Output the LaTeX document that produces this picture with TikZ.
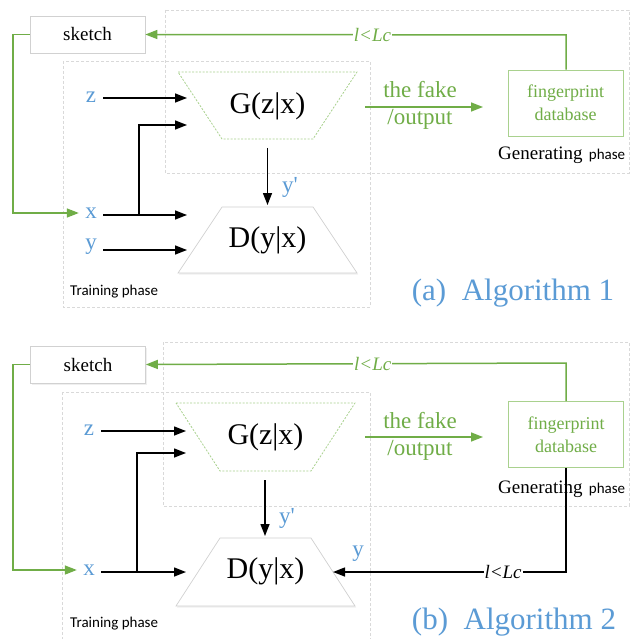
\documentclass[tikz,border=0pt]{standalone}
\usepackage{fontspec}
\setmainfont{Liberation Serif}
\newfontfamily\carlito{Carlito}
\usetikzlibrary{arrows.meta,shadows}
\definecolor{mygreen}{HTML}{70AD47}
\definecolor{mylgreen}{HTML}{A9D18E}
\definecolor{myblue}{HTML}{5B9BD5}
\tikzset{
  phasebox/.style={draw=black!15, dash pattern=on 3pt off 2pt, line width=0.7pt},
  softshadow/.style={drop shadow={opacity=0.12, shadow xshift=1pt, shadow yshift=-1.5pt}},
  whitebox/.style={draw=black!18, fill=white, line width=0.7pt},
  gtrap/.style={draw=mylgreen, fill=white, dash pattern=on 2pt off 1.5pt, line width=0.8pt},
  dtrap/.style={draw=black!18, fill=white, line width=0.7pt, softshadow},
  fpbox/.style={draw=mylgreen, fill=white, line width=0.9pt, text=mygreen, align=center,
    font=\fontsize{18}{23}\selectfont, minimum width=115pt, minimum height=66pt},
  sketchbox/.style={whitebox, softshadow, font=\fontsize{19}{19}\selectfont, minimum width=115pt, minimum height=37pt},
  blabel/.style={text=myblue, font=\fontsize{23}{23}\selectfont, inner sep=0pt, minimum width=24pt, minimum height=20pt},
  nettext/.style={font=\fontsize{30}{30}\selectfont, inner sep=0pt},
  faketext/.style={text=mygreen, font=\fontsize{23}{23}\selectfont, inner sep=0pt},
  condlabel/.style={font=\fontsize{19}{19}\selectfont\itshape, fill=white, inner sep=1pt},
  trainlabel/.style={font=\carlito\fontsize{15}{15}\selectfont, anchor=west, inner sep=0pt},
  genlabel/.style={font=\fontsize{19}{19}\selectfont, anchor=west, inner sep=0pt},
  titlelabel/.style={text=myblue, font=\fontsize{31}{31}\selectfont, inner sep=0pt},
  gline/.style={draw=mygreen, line width=1.5pt},
  garrow/.style={gline, -{Triangle[length=12pt,width=9pt]}},
  barrow/.style={draw=black, line width=1.4pt, -{Triangle[length=12pt,width=9pt]}},
  bline/.style={draw=black, line width=1.4pt},
}
\begin{document}
\begin{tikzpicture}[x=1pt,y=-1pt]
\useasboundingbox (0,0) rectangle (631,639);
\fill[white] (0,0) rectangle (631,639);

%%%%%%%%%%%%%%%% Panel (a)
\draw[phasebox] (165,10) rectangle (629,173);
\draw[phasebox] (63,61) rectangle (370,307);
\node[sketchbox] (a-sketch) at (87.5,34.5) {sketch};
\draw[gtrap] (178,72) -- (357,72) -- (313,139) -- (222,139) -- cycle;
\draw[dtrap] (222,207) -- (313,207) -- (357,273) -- (178,273) -- cycle;
\node[nettext] (a-G) at (267.5,106) {G(z|x)};
\node[nettext] (a-D) at (267.5,240) {D(y|x)};
\coordinate (a-Gout) at (267.5,148);
\coordinate (a-Din) at (267.5,205);
\coordinate (a-Gz) at (187,98);
\coordinate (a-Gx) at (187,125);
\coordinate (a-Dx) at (187,215);
\coordinate (a-Dy) at (187,250);
\coordinate (a-J) at (139,215);
\node[blabel] (a-z) at (91,97) {z};
\node[blabel] (a-x) at (91,213) {x};
\node[blabel] (a-y) at (91,247) {y};
\node[blabel] (a-yp) at (290,187) {y\textquotesingle};
\draw[barrow] (a-z.east |- a-Gz) -- (a-Gz);
\draw[barrow] (a-x.east |- a-Dx) -- (a-Dx);
\draw[barrow] (a-y.east |- a-Dy) -- (a-Dy);
\draw[barrow] (a-J) |- (a-Gx);
\draw[barrow] (a-Gout) -- (a-Din);
\node[fpbox] (a-fp) at (565.5,103) {fingerprint\\database};
\coordinate (a-fk1) at (365,107);
\coordinate (a-fk2) at (483,107);
\draw[garrow] (a-fk1) -- (a-fk2);
\node[faketext] (a-fake) at (420,90) {the fake};
\node[faketext] (a-out) at (420,119) {/output};
\coordinate (a-top) at (566,35);
\draw[garrow] (a-fp.north -| a-top) -- (a-top) -- (a-sketch.east)
  node[condlabel, text=mygreen, pos=0.46] (a-cond) {l<Lc};
\draw[garrow] (a-sketch.west) -- (13,34.5) |- (a-x.west);
\node[trainlabel] (a-train) at (70,292) {Training phase};
\node[genlabel] (a-gen) at (498,155) {Generating\,\,{\carlito\fontsize{15}{15}\selectfont phase}};
\node[titlelabel] (a-title) at (513,293) {(a)\ \ Algorithm 1};

%%%%%%%%%%%%%%%% Panel (b)
\draw[phasebox] (163,342) rectangle (629,506);
\draw[phasebox] (62,392) rectangle (370,660);
\node[sketchbox] (b-sketch) at (88,364.5) {sketch};
\draw[gtrap] (176,403) -- (355,403) -- (311,471) -- (220,471) -- cycle;
\draw[dtrap] (220,538) -- (311,538) -- (355,606) -- (176,606) -- cycle;
\node[nettext] (b-G) at (265.5,437) {G(z|x)};
\node[nettext] (b-D) at (265.5,571) {D(y|x)};
\coordinate (b-Gout) at (265,480);
\coordinate (b-Din) at (265,536);
\coordinate (b-Gz) at (186,431);
\coordinate (b-Gx) at (186,453);
\coordinate (b-Dx) at (186,572);
\coordinate (b-Dy) at (333,572);
\coordinate (b-J) at (137,572);
\node[blabel] (b-z) at (89,430) {z};
\node[blabel] (b-x) at (89,570) {x};
\node[blabel] (b-y) at (358,554) {y};
\node[blabel] (b-yp) at (287,518) {y\textquotesingle};
\draw[barrow] (b-z.east |- b-Gz) -- (b-Gz);
\draw[barrow] (b-x.east |- b-Dx) -- (b-Dx);
\draw[barrow] (b-J) |- (b-Gx);
\draw[barrow] (b-Gout) -- (b-Din);
\node[fpbox] (b-fp) at (566,434.5) {fingerprint\\database};
\coordinate (b-fk1) at (365,437);
\coordinate (b-fk2) at (483,437);
\draw[garrow] (b-fk1) -- (b-fk2);
\node[faketext] (b-fake) at (420,421) {the fake};
\node[faketext] (b-out) at (420,450) {/output};
\coordinate (b-top) at (566,363);
\draw[garrow] (b-fp.north -| b-top) -- (b-top) -- (b-sketch.east)
  node[condlabel, text=mygreen, pos=0.46] (b-cond) {l<Lc};
\draw[garrow] (b-sketch.west) -- (13,364.5) |- (b-x.west);
\coordinate (b-bot) at (566,572);
\node[genlabel] (b-gen) at (498,489) {Generating\,\,{\carlito\fontsize{15}{15}\selectfont phase}};
\draw[barrow] (b-fp.south -| b-bot) -- (b-bot) -- (b-Dy)
  node[condlabel, text=black, pos=0.27] (b-cond2) {l<Lc};
\node[trainlabel] (b-train) at (70,624) {Training phase};
\node[titlelabel] (b-title) at (514,622) {(b)\ \ Algorithm 2};
\end{tikzpicture}
\end{document}
